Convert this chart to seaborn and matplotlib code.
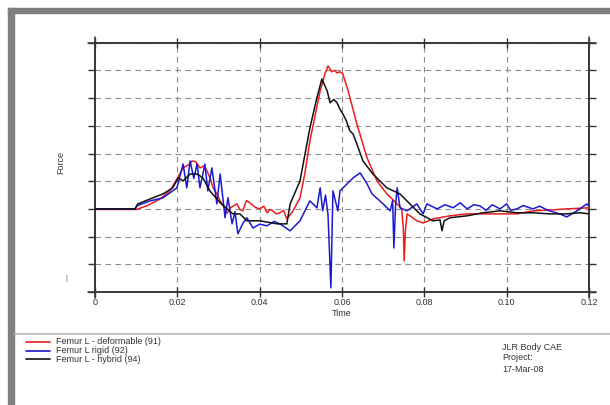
import matplotlib
matplotlib.use("Agg")
import matplotlib.pyplot as plt
from matplotlib.lines import Line2D
from matplotlib.patches import Rectangle
import seaborn as sns
import pandas as pd

# curves (time in s, force in grid units)
t_deform = [0, 0.010, 0.0126, 0.0158, 0.0182, 0.0199, 0.0214, 0.0228, 0.0236, 0.0245,
            0.0255, 0.0265, 0.0272, 0.0280, 0.0287, 0.0296, 0.0304, 0.0312, 0.0321, 0.0330,
            0.0345, 0.0352, 0.0359, 0.0368, 0.0376, 0.0390, 0.0401, 0.0410, 0.0418, 0.0425,
            0.0432, 0.0440, 0.0449, 0.0458, 0.0466, 0.0480, 0.0498, 0.0510, 0.0522, 0.0535,
            0.0547, 0.0558, 0.0566, 0.0575, 0.0582, 0.0588, 0.0595, 0.0602, 0.0615, 0.0636,
            0.0661, 0.0685, 0.0709, 0.0734, 0.0745, 0.0749, 0.0751, 0.0754, 0.0758, 0.0770,
            0.0782, 0.0797, 0.0821, 0.0862, 0.0904, 0.0942, 0.0984, 0.1025, 0.1064, 0.1105,
            0.1146, 0.12]
f_deform = [-0.02, -0.02, 0.11, 0.36, 0.65, 1.08, 1.48, 1.60, 1.73, 1.70,
            1.48, 1.55, 1.37, 1.10, 0.76, 0.55, 0.29, 0.10, -0.15, 0.05,
            0.18, -0.02, -0.07, 0.30, 0.22, 0.05, 0.0, 0.10, -0.14, -0.02,
            -0.07, -0.18, -0.14, -0.05, -0.36, -0.10, 0.40, 1.30, 2.45, 3.40,
            4.26, 4.85, 5.16, 4.95, 5.00, 4.91, 4.95, 4.87, 4.26, 3.07,
            1.84, 1.01, 0.54, 0.18, 0.0, -0.7, -1.88, -0.8, -0.18, -0.30,
            -0.43, -0.51, -0.36, -0.25, -0.18, -0.18, -0.18, -0.18, -0.07, -0.04,
            0.0, 0.04]

t_rigid = [0, 0.0097, 0.0102, 0.0134, 0.0165, 0.0199, 0.0214, 0.0223, 0.0231, 0.0240,
           0.0248, 0.0255, 0.0267, 0.0274, 0.0284, 0.0296, 0.0304, 0.0316, 0.0323, 0.0333,
           0.0340, 0.0347, 0.0360, 0.0369, 0.0384, 0.0400, 0.0418, 0.0435, 0.0449, 0.0474,
           0.0498, 0.0522, 0.0539,
           0.0547, 0.0553, 0.0560, 0.0566, 0.0573, 0.0578, 0.0590, 0.0595, 0.0612, 0.0627,
           0.0644, 0.0661, 0.0673, 0.0700, 0.0717, 0.0723, 0.0726, 0.0730, 0.0734, 0.0741,
           0.0758, 0.0782, 0.0797, 0.0806, 0.0831, 0.0850, 0.0870, 0.0887, 0.0904, 0.0920,
           0.0935, 0.0950, 0.0965, 0.0984, 0.1000, 0.1010, 0.1025, 0.1040, 0.1064, 0.1080,
           0.1100, 0.1129, 0.1146, 0.1171, 0.1195, 0.12]
f_rigid = [0, 0, 0.11, 0.29, 0.40, 0.76, 1.62, 0.76, 1.73, 1.10,
           1.62, 0.76, 1.62, 0.65, 1.48, 0.18, 1.26, -0.32, 0.40, -0.54,
           -0.10, -0.90, -0.50, -0.32, -0.69, -0.55, -0.61, -0.45, -0.54, -0.79,
           -0.43, 0.29, 0.04,
           0.76, -0.07, 0.50, -0.20, -2.85, 0.65, -0.07, 0.65, 0.90, 1.12,
           1.30, 0.90, 0.54, 0.18, -0.07, 0.30, -1.41, 0.10, 0.76, 0.04,
           -0.07, 0.18, -0.18, 0.18, 0.0, 0.15, 0.04, 0.22, 0.0, 0.15,
           0.11, -0.05, 0.15, 0.0, 0.18, -0.05, 0.0, 0.12, 0.0, 0.10,
           -0.05, -0.18, -0.29, -0.07, 0.18, 0.10]

t_hybrid = [0, 0.0097, 0.0104, 0.0134, 0.0165, 0.0189, 0.0202, 0.0214, 0.0231, 0.0248,
            0.0262, 0.0279, 0.0304, 0.0335, 0.0352, 0.0369, 0.0401, 0.0442, 0.0466, 0.0474,
            0.0498, 0.0522, 0.0539, 0.0551, 0.0564, 0.0571, 0.0580, 0.0588, 0.0595, 0.0602,
            0.0610, 0.0619, 0.0627, 0.0636,
            0.0651, 0.0675, 0.0709, 0.0741, 0.0765, 0.0789, 0.0821, 0.0838, 0.0843, 0.0848,
            0.0862, 0.0904, 0.0942, 0.0984, 0.1025, 0.1064, 0.1105, 0.1146, 0.1178, 0.12]
f_hybrid = [0, 0, 0.18, 0.36, 0.54, 0.76, 1.12, 1.01, 1.26, 1.26,
            1.12, 0.65, 0.22, -0.18, -0.18, -0.43, -0.43, -0.54, -0.54, 0.18,
            1.01, 2.92, 4.01, 4.69, 4.26, 3.83, 3.95, 3.83, 3.60, 3.43,
            3.20, 2.82, 2.70, 2.35,
            1.73, 1.26, 0.76, 0.54, 0.18, -0.18, -0.43, -0.40, -0.79, -0.43,
            -0.32, -0.25, -0.14, -0.07, -0.14, -0.14, -0.18, -0.18, -0.14, -0.18]

labels = ["Femur L - deformable (91)", "Femur L rigid (92)", "Femur L - hybrid (94)"]
colors = ["#ee1c1c", "#1a1ad2", "#111111"]
x_ticks = [0, 0.02, 0.04, 0.06, 0.08, 0.10, 0.12]
x_ticklabels = ["0", "0.02", "0.04", "0.06", "0.08", "0.10", "0.12"]
y_grid = [-3, -2, -1, 0, 1, 2, 3, 4, 5, 6]
footer = ["JLR Body CAE", "Project:", "17-Mar-08"]

df = pd.concat([
    pd.DataFrame({"Time": t_deform, "Force": f_deform, "run": labels[0]}),
    pd.DataFrame({"Time": t_rigid, "Force": f_rigid, "run": labels[1]}),
    pd.DataFrame({"Time": t_hybrid, "Force": f_hybrid, "run": labels[2]}),
])

sns.set_style("white")
plt.rcParams["font.family"] = ["Liberation Sans", "DejaVu Sans"]

W, H = 610, 405
fig = plt.figure(figsize=(6.1, 4.05), dpi=100)
ax = fig.add_axes([95 / W, 1 - 292 / H, 494 / W, 249.3 / H])


def fx(px):
    return px / W


def fy(py):
    return 1 - py / H


# grey frame on top and left
fig.patches.append(Rectangle((fx(8), fy(13)), 1, 5 / H, transform=fig.transFigure,
                             color="#808080", zorder=0))
fig.patches.append(Rectangle((fx(8), 0), 6 / W, fy(8), transform=fig.transFigure,
                             color="#808080", zorder=0))
fig.lines.append(Line2D([fx(14), 1], [fy(334), fy(334)], transform=fig.transFigure,
                        color="#b4b4b4", lw=1.2))

sns.lineplot(data=df, x="Time", y="Force", hue="run", palette=colors,
             estimator=None, sort=False, lw=1.1, legend=False, ax=ax, zorder=3)

ax.set_xlim(0, 0.12)
ax.set_ylim(-3, 6)
ax.set_xticks(x_ticks)
ax.set_xticklabels(x_ticklabels)
ax.set_yticks(y_grid)
ax.set_yticklabels([])
ax.grid(True, color="#8c8c8c", ls=(0, (5, 4)), lw=0.8)
ax.tick_params(axis="x", which="both", bottom=True, top=True, direction="inout",
               length=7, width=1, color="#333333", labelsize=6.5, labelcolor="#333333", pad=1)
ax.tick_params(axis="y", which="both", left=True, right=True, direction="out",
               length=5, width=1, color="#333333")
for s in ax.spines.values():
    s.set_color("#333333")
    s.set_linewidth(1.1)

# frame lines overshoot the corners
ex, ey = 7 / 494, 6 / 249.3
for xs, ys in [([-ex, 1 + ex], [1, 1]), ([-ex, 1 + ex], [0, 0]),
               ([0, 0], [-ey, 1 + ey]), ([1, 1], [-ey, 1 + ey])]:
    ax.plot(xs, ys, transform=ax.transAxes, color="#333333", lw=1.1, clip_on=False)

ax.set_xlabel("")
ax.set_ylabel("")
fig.text(fx(95 + 0.06 * 4117), fy(309), "Time", fontsize=6.5, color="#333333",
         ha="center", va="top")
fig.text(fx(61), fy(162), "Force", fontsize=6.5, color="#333333", rotation=90,
         ha="center", va="center")
fig.text(fx(66), fy(278), "|", fontsize=5, color="#555555", ha="center", va="center")

# legend block under the plot
for i, (lab, c) in enumerate(zip(labels, colors)):
    yy = fy(342 + i * 8.5)
    fig.lines.append(Line2D([fx(26), fx(50)], [yy, yy], transform=fig.transFigure,
                            color=c, lw=1.2))
    fig.text(fx(56), yy, lab, fontsize=6.5, color="#333333", va="center", ha="left")

for i, txt in enumerate(footer):
    fig.text(fx(502), fy(347 + i * 11), txt, fontsize=6.5, color="#333333",
             va="center", ha="left")

fig.savefig("out.png", dpi=100)
